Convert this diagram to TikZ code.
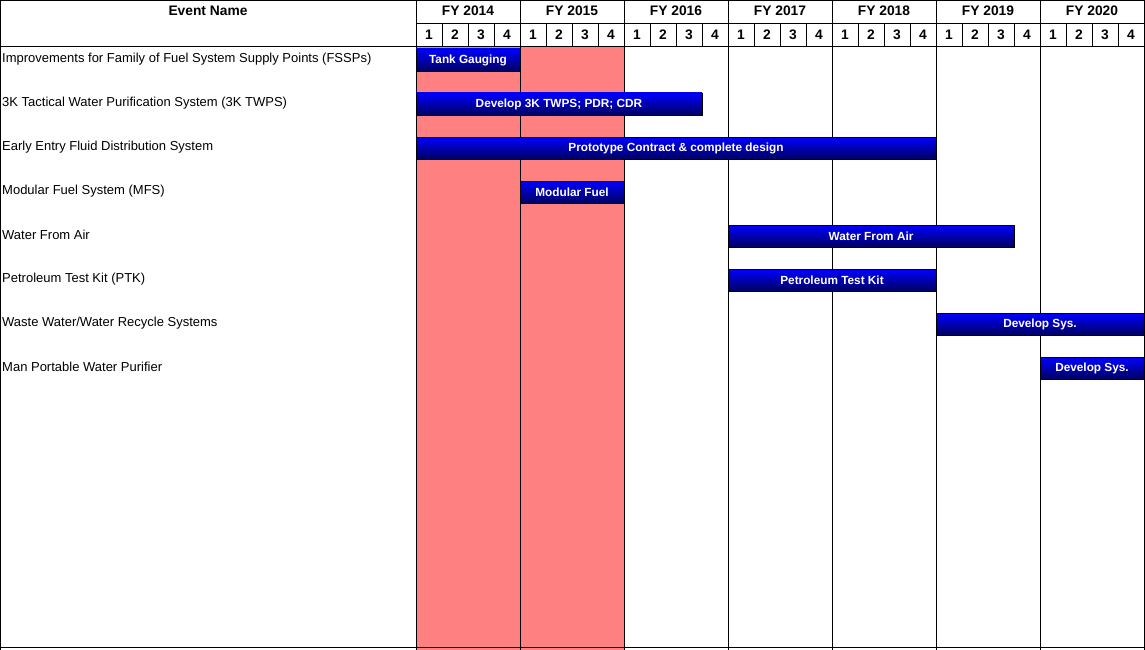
\documentclass[tikz,border=0pt]{standalone}
\usepackage{fontspec}
\setmainfont{Liberation Sans}
\usetikzlibrary{positioning}
\definecolor{shadered}{RGB}{255,128,128}
\definecolor{barnavy}{RGB}{0,0,96}
\definecolor{barblue}{RGB}{0,0,255}

\begin{document}
\begin{tikzpicture}[x=1pt,y=-1pt,
  grid/.style={line width=1pt, black},
  ev/.style={anchor=west, inner sep=0pt, font=\fontsize{13}{15}\selectfont},
  hd/.style={inner sep=0pt, font=\fontsize{13.8}{16}\selectfont\bfseries},
  bar/.style={draw=black, line width=0.8pt, top color=barblue,
    bottom color=barnavy, inner sep=0pt, minimum height=22pt,
    text=white, font=\fontsize{11.8}{14}\selectfont\bfseries}
]
\useasboundingbox (0,0) rectangle (1145,650);
% shaded years
\fill[shadered] (416,47) rectangle (624,650);
% frame and header
\draw[grid] (0.5,0.5) -- (1144,0.5);
\draw[grid] (416,24) -- (1144,24);
\draw[grid] (0,47) -- (1144,47);
\draw[grid] (0,647) -- (1144,647);
\draw[grid] (0.5,0) -- (0.5,650);
\draw[grid] (1144,0) -- (1144,650);
\node[hd] (evhead) at (208,11) {Event Name};
\foreach \yr [count=\i from 0] in {2014,...,2020} {
  \draw[grid] (416+104*\i,0) -- (416+104*\i,650);
  \node[hd] (fy\yr) at (468+104*\i,11) {FY \yr};
  \foreach \q in {1,...,4} {
    \draw[grid] (416+104*\i+26*\q,24) -- (416+104*\i+26*\q,47);
    \node[hd] (q\yr\q) at (403+104*\i+26*\q,35) {\q};
  }
}
% event names
\foreach \txt [count=\r from 0] in {%
  Improvements for Family of Fuel System Supply Points (FSSPs),
  3K Tactical Water Purification System (3K TWPS),
  Early Entry Fluid Distribution System,
  Modular Fuel System (MFS),
  Water From Air,
  Petroleum Test Kit (PTK),
  Waste Water/Water Recycle Systems,
  Man Portable Water Purifier}
  \node[ev] (ev\r) at (2,59+44*\r) {\txt};
% bars
\node[bar, minimum width=104pt] (tank) at (468,60) {Tank Gauging};
\node[bar, minimum width=286pt] (twps) at (559,104) {Develop 3K TWPS; PDR; CDR};
\node[bar, minimum width=520pt] (proto) at (676,148) {Prototype Contract \& complete design};
\node[bar, minimum width=104pt] (mfs) at (572,192) {Modular Fuel};
\node[bar, minimum width=286pt] (wfa) at (871,236) {Water From Air};
\node[bar, minimum width=208pt] (ptk) at (832,280) {Petroleum Test Kit};
\node[bar, minimum width=208pt] (recyc) at (1040,324) {Develop Sys.};
\node[bar, minimum width=104pt] (purif) at (1092,368) {Develop Sys.};
\end{tikzpicture}
\end{document}
